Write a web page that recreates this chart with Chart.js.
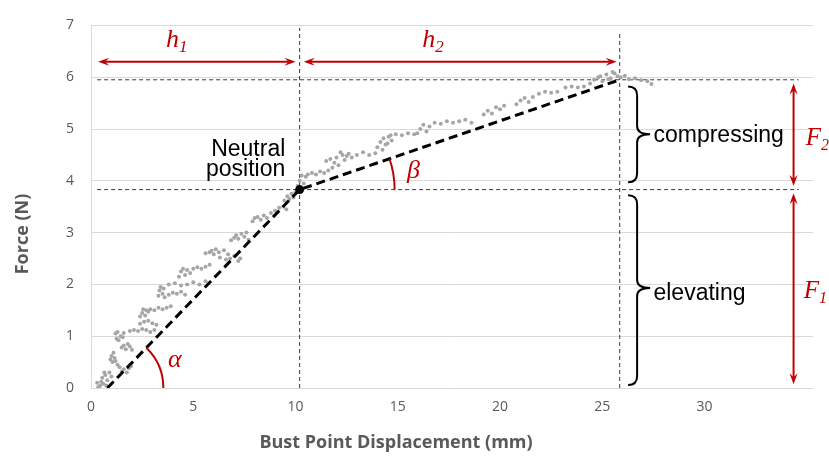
<!DOCTYPE html>
<html>
<head>
<meta charset="utf-8">
<script src="https://cdn.jsdelivr.net/npm/chart.js@4.4.0/dist/chart.umd.min.js"></script>
<style>
  html, body { margin: 0; padding: 0; background: #fff; }
</style>
</head>
<body>
<canvas id="forceChart" width="829" height="457"></canvas>
<script>
// measured points (displacement mm, force N)
var pointX = [
  0.35,0.45,0.5,0.55,0.6,0.7,0.8,0.9,1.0,
  0.3,0.4,0.65,0.75,
  0.95,1.0,1.05,1.1,1.15,1.2,1.3,1.4,
  1.5,1.6,1.75,1.85,1.95,
  1.5,1.6,1.7,1.8,1.9,2.0,
  1.2,1.25,1.3,1.35,1.45,1.55,1.6,
  1.9,2.1,2.3,2.5,2.7,2.9,3.1,
  2.4,2.6,2.8,3.0,3.2,
  2.4,2.5,2.55,2.65,2.7,2.8,
  2.9,3.1,3.3,3.5,3.7,3.9,
  3.3,3.35,3.4,3.5,3.55,3.6,
  3.8,4.0,4.2,4.4,4.6,
  3.8,4.1,4.4,4.7,5.0,5.3,5.6,
  4.3,4.4,4.5,4.6,4.7,4.85,
  5.0,5.2,5.4,5.6,5.8,
  5.6,5.8,5.9,6.0,6.1,6.25,
  6.5,6.7,6.8,7.0,7.2,7.3,
  6.3,6.6,
  6.85,7.0,7.1,7.2,7.35,7.5,7.6,7.7,
  7.9,8.0,8.15,8.3,8.45,8.6,
  8.8,9.0,9.2,9.4,9.55,
  9.45,9.6,9.7,9.8,9.9,10.0,
  10.1,10.2,10.3,10.4,10.5,10.6,
  10.8,11.0,11.2,11.4,11.6,
  11.5,11.7,12.2,12.5,
  11.8,11.9,12.0,12.1,12.3,12.4,12.6,12.75,
  13.0,13.3,13.6,13.9,
  14.0,14.15,14.3,14.4,14.55,14.7,
  14.25,14.5,14.65,
  14.9,15.2,15.5,15.8,
  15.95,16.1,16.25,16.4,16.55,
  16.8,17.1,17.4,17.7,18.0,18.3,18.6,
  19.2,19.4,19.6,19.8,20.0,20.2,
  20.8,21.0,21.2,21.4,21.6,
  21.9,22.2,22.5,22.8,
  23.2,23.5,23.8,24.1,
  24.4,24.6,24.8,25.0,25.2,25.4,25.6,
  24.9,25.3,25.5,25.75,
  25.9,26.1,26.3,26.6,26.9,27.2,27.4
];
var pointY = [
  0.02,0.05,0.12,0.2,0.08,0.25,0.15,0.3,0.22,
  0.1,0.0,0.3,0.05,
  0.55,0.62,0.5,0.68,0.58,0.52,0.45,0.4,
  0.32,0.36,0.3,0.38,0.42,
  0.78,0.82,0.75,0.85,0.8,0.74,
  1.05,0.95,1.08,0.92,1.0,0.98,1.06,
  1.1,1.12,1.1,1.14,1.12,1.08,1.12,
  1.24,1.28,1.3,1.25,1.22,
  1.38,1.45,1.52,1.4,1.5,1.47,
  1.52,1.5,1.55,1.52,1.55,1.58,
  1.78,1.88,1.95,1.82,1.92,1.75,
  1.8,1.84,1.82,1.86,1.8,
  2.0,2.02,1.98,2.0,2.04,2.0,2.06,
  2.15,2.25,2.3,2.18,2.28,2.22,
  2.3,2.33,2.3,2.34,2.38,
  2.6,2.62,2.65,2.58,2.68,2.62,
  2.66,2.58,2.5,2.55,2.45,2.5,
  2.52,2.48,
  2.85,2.9,2.95,2.88,2.98,2.92,3.0,2.86,
  3.22,3.28,3.3,3.25,3.33,3.28,
  3.38,3.42,3.48,3.5,3.45,
  3.62,3.7,3.65,3.75,3.68,3.78,
  3.9,4.0,4.1,3.95,4.08,4.12,
  4.15,4.12,4.18,4.15,4.2,
  4.38,4.42,4.55,4.48,
  4.25,4.35,4.45,4.3,4.5,4.4,4.52,4.45,
  4.5,4.55,4.5,4.53,
  4.65,4.75,4.82,4.7,4.85,4.78,
  4.6,4.72,4.88,
  4.9,4.88,4.92,4.9,
  4.92,5.0,5.08,4.95,5.05,
  5.12,5.1,5.15,5.12,5.15,5.18,5.12,
  5.28,5.35,5.3,5.42,5.38,5.45,
  5.48,5.55,5.6,5.52,5.62,
  5.68,5.72,5.7,5.72,
  5.8,5.82,5.8,5.82,
  5.88,5.95,6.0,5.92,6.05,5.98,6.07,
  6.02,5.96,6.1,6.02,
  6.0,6.03,5.96,5.98,5.94,5.92,5.87
];

// two-stage linear fit
var fitX = [0.8, 10.2, 25.85];
var fitY = [0, 3.83, 5.95];

var neutralX = 10.2, neutralF = 3.83;
var topX = 25.85, topF = 5.95;

var xTicks = [0, 5, 10, 15, 20, 25, 30];

var scatter = [];
for (var i = 0; i < pointX.length; i++) {
  scatter.push({x: pointX[i], y: pointY[i]});
}
var fit = [];
for (var j = 0; j < fitX.length; j++) {
  fit.push({x: fitX[j], y: fitY[j]});
}

function refLine(a, b) {
  return {
    data: [a, b], showLine: true, borderColor: '#3a3a3a', borderWidth: 1,
    borderDash: [4, 3], pointRadius: 0
  };
}

var red = '#c00000';

var annotations = {
  id: 'annotations',
  afterDatasetsDraw: function(chart) {
    var ctx = chart.ctx;
    var xs = chart.scales.x, ys = chart.scales.y;
    var px = function(v) { return xs.getPixelForValue(v); };
    var py = function(v) { return ys.getPixelForValue(v); };

    function head(tx, ty, ux, uy) {
      var nx = -uy, ny = ux;
      ctx.beginPath();
      ctx.moveTo(tx, ty);
      ctx.lineTo(tx - ux * 11 + nx * 4, ty - uy * 11 + ny * 4);
      ctx.lineTo(tx - ux * 7, ty - uy * 7);
      ctx.lineTo(tx - ux * 11 - nx * 4, ty - uy * 11 - ny * 4);
      ctx.closePath();
      ctx.fill();
    }
    function arrow(x1, y1, x2, y2) {
      var dx = x2 - x1, dy = y2 - y1, len = Math.sqrt(dx * dx + dy * dy);
      var ux = dx / len, uy = dy / len;
      ctx.strokeStyle = red; ctx.fillStyle = red; ctx.lineWidth = 2;
      ctx.beginPath();
      ctx.moveTo(x1 + ux * 7, y1 + uy * 7);
      ctx.lineTo(x2 - ux * 7, y2 - uy * 7);
      ctx.stroke();
      head(x2, y2, ux, uy);
      head(x1, y1, -ux, -uy);
    }
    function brace(x, y1, y2, ym) {
      ctx.strokeStyle = '#000'; ctx.lineWidth = 2;
      ctx.beginPath();
      ctx.moveTo(x - 9, y1);
      ctx.quadraticCurveTo(x, y1, x, y1 + 9);
      ctx.lineTo(x, ym - 8);
      ctx.quadraticCurveTo(x, ym, x + 13, ym);
      ctx.moveTo(x + 13, ym);
      ctx.quadraticCurveTo(x, ym, x, ym + 8);
      ctx.lineTo(x, y2 - 9);
      ctx.quadraticCurveTo(x, y2, x - 9, y2);
      ctx.stroke();
    }
    function symbol(main, sub, x, y, size) {
      ctx.fillStyle = red;
      ctx.textAlign = 'left';
      ctx.textBaseline = 'alphabetic';
      ctx.font = 'italic ' + size + 'px "Liberation Serif"';
      ctx.fillText(main, x, y);
      var w = ctx.measureText(main).width;
      if (sub) {
        ctx.font = 'italic ' + Math.round(size * 0.65) + 'px "Liberation Serif"';
        ctx.fillText(sub, x + w, y + 5);
      }
    }

    ctx.save();

    // width arrows
    arrow(px(0.35), py(6.3), px(10.0), py(6.3));
    arrow(px(10.4), py(6.3), px(25.7), py(6.3));
    // force arrows
    arrow(px(34.35), py(5.88), px(34.35), py(3.9));
    arrow(px(34.35), py(3.76), px(34.35), py(0.07));

    symbol('h', '1', px(3.67), py(6.58), 26);
    symbol('h', '2', px(16.2), py(6.58), 26);
    symbol('F', '2', px(34.95), py(4.69), 25);
    symbol('F', '1', px(34.85), py(1.74), 25);

    // angles
    var ax = px(fitX[0]), ay = py(fitY[0]);
    var a1 = Math.atan2(py(fitY[1]) - ay, px(fitX[1]) - ax);
    ctx.strokeStyle = red; ctx.lineWidth = 2;
    ctx.beginPath();
    ctx.arc(ax, ay, 56, a1, 0);
    ctx.stroke();
    var bx = px(fitX[1]), by = py(fitY[1]);
    var a2 = Math.atan2(py(fitY[2]) - by, px(fitX[2]) - bx);
    ctx.beginPath();
    ctx.arc(bx, by, 95, a2, 0);
    ctx.stroke();
    symbol('\u03b1', '', px(3.77), py(0.4), 26);
    symbol('\u03b2', '', px(15.45), py(4.05), 26);

    // braces
    brace(px(26.7), py(5.82), py(3.97), py(4.9));
    brace(px(26.7), py(3.72), py(0.06), py(1.93));

    ctx.fillStyle = '#000';
    ctx.font = '23px "Liberation Sans"';
    ctx.textAlign = 'left';
    ctx.textBaseline = 'middle';
    ctx.fillText('compressing', px(27.5), py(4.87));
    ctx.fillText('elevating', px(27.5), py(1.83));

    ctx.textAlign = 'right';
    ctx.textBaseline = 'alphabetic';
    ctx.fillText('Neutral', px(9.5), py(4.48));
    ctx.fillText('position', px(9.5), py(4.1));

    // axis titles
    ctx.fillStyle = '#595959';
    ctx.font = 'bold 18px "Open Sans"';
    ctx.textAlign = 'center';
    ctx.textBaseline = 'middle';
    ctx.fillText('Bust Point Displacement (mm)', 396, 443);
    ctx.translate(23, 234);
    ctx.rotate(-Math.PI / 2);
    ctx.fillText('Force (N)', 0, 0);

    ctx.restore();
  }
};

var ctx = document.getElementById('forceChart');

new Chart(ctx, {
  type: 'scatter',
  data: {
    datasets: [
      { data: [{x: neutralX, y: neutralF}], pointRadius: 4.5, pointBackgroundColor: '#000', pointBorderWidth: 0 },
      { data: fit, showLine: true, borderColor: '#000', borderWidth: 3, borderDash: [9, 5], pointRadius: 0 },
      { data: scatter, pointRadius: 2, pointBackgroundColor: '#a6a6a6', pointBorderWidth: 0 },
      refLine({x: 0.3, y: topF}, {x: 34.6, y: topF}),
      refLine({x: 0.3, y: neutralF}, {x: 34.6, y: neutralF}),
      refLine({x: neutralX, y: 0}, {x: neutralX, y: 6.95}),
      refLine({x: topX, y: 0}, {x: topX, y: 6.85})
    ]
  },
  options: {
    responsive: false,
    animation: false,
    layout: { padding: { top: 21, right: 16, left: 0, bottom: 0 } },
    plugins: { legend: { display: false }, tooltip: { enabled: false } },
    scales: {
      x: {
        type: 'linear', min: 0, max: 35.3,
        grid: { display: false, drawTicks: false },
        border: { display: false },
        afterBuildTicks: function(s) { s.ticks = xTicks.map(function(v) { return {value: v}; }); },
        ticks: { padding: 11, color: '#595959', font: { family: 'Open Sans', size: 14 }, maxRotation: 0, autoSkip: false },
        afterFit: function(s) { s.height = 69; }
      },
      y: {
        min: 0, max: 7,
        grid: { color: '#d9d9d9', drawTicks: false },
        border: { color: '#d9d9d9' },
        ticks: { stepSize: 1, padding: 17, color: '#595959', font: { family: 'Open Sans', size: 14 } },
        afterFit: function(s) { s.width = 91; }
      }
    }
  },
  plugins: [annotations]
});
</script>
</body>
</html>
